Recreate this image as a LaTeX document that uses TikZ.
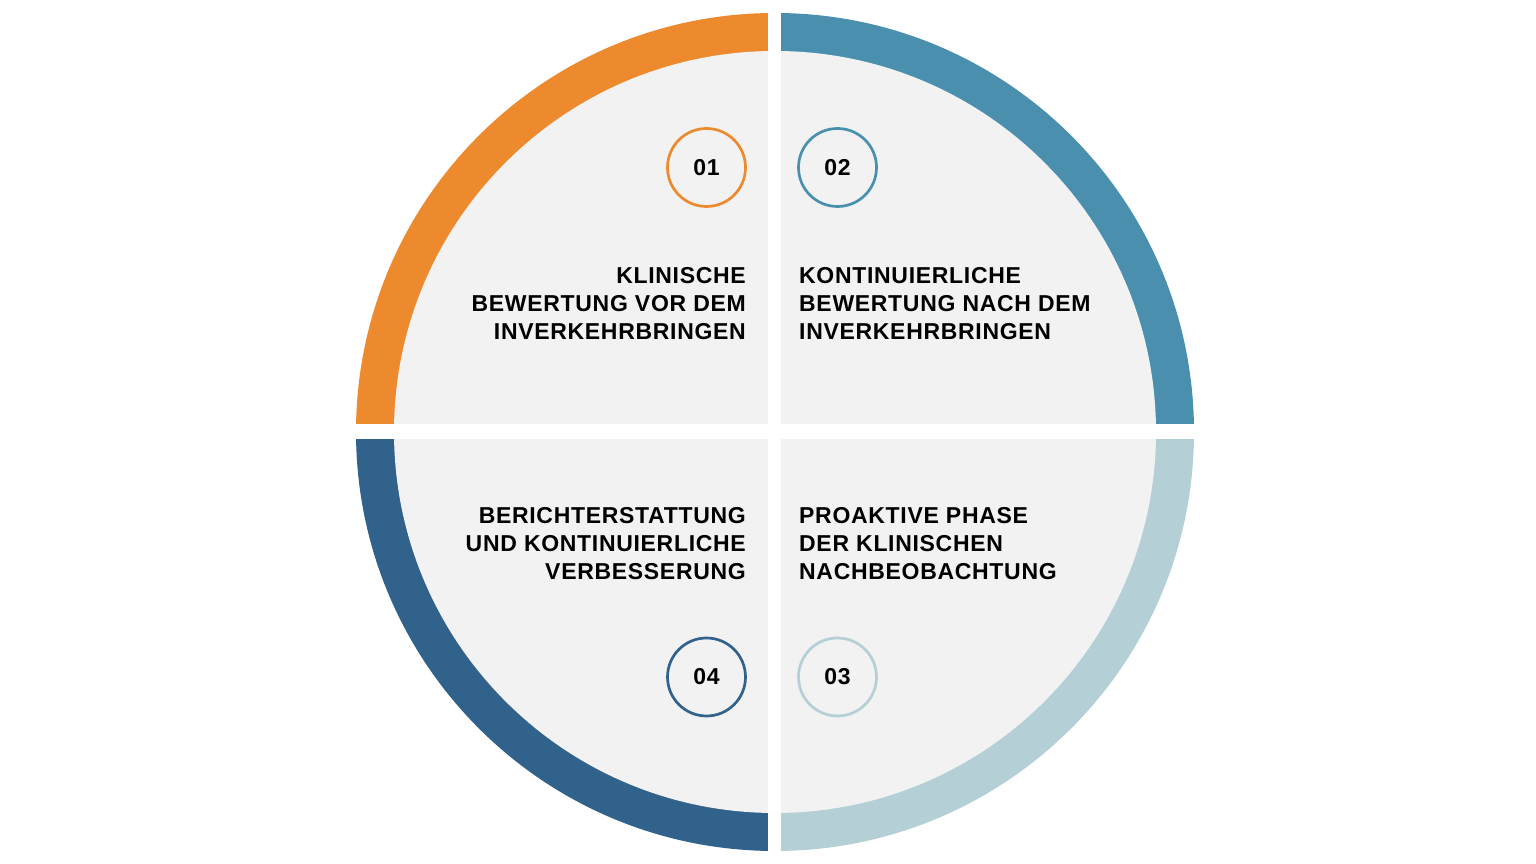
\documentclass[tikz,border=0pt]{standalone}
\usepackage{fontspec}
\usepackage{xcolor}
\newfontfamily\phasefont{Liberation Sans}[LetterSpace=3.0]
\definecolor{phaseOrange}{HTML}{EE8A2E}
\definecolor{phaseTeal}{HTML}{4A90AE}
\definecolor{phaseLight}{HTML}{B4CFD5}
\definecolor{phaseDark}{HTML}{31628C}
\definecolor{panelGrey}{HTML}{F2F2F2}

\begin{document}
\begin{tikzpicture}[x=1pt, y=1pt,
phase/.style={inner sep=0pt, font=\phasefont\bfseries\fontsize{23}{28}\selectfont, text=black},
num/.style={circle, draw=#1, line width=2.7pt, minimum size=78pt, inner sep=0pt,
    font=\phasefont\bfseries\fontsize{23}{26}\selectfont, text=black}]
\useasboundingbox[fill=white] (0,0) rectangle (1536,864);
\coordinate (c) at (775,432);
% outer bands and inner disc
\foreach \a/\col in {90/phaseOrange, 0/phaseTeal, 270/phaseLight, 180/phaseDark}
  \fill[\col] (c) -- ++(\a:419) arc[start angle=\a, end angle=\a+90, radius=419pt] -- cycle;
\fill[panelGrey] (c) circle[radius=381pt];
% white cross between the quadrants
\fill[white] (768,0) rectangle (781,864);
\fill[white] (0,425) rectangle (1536,440);
% numbers
\node[num=phaseOrange] (n1) at (706.5,696.5) {01};
\node[num=phaseTeal] (n2) at (837.5,696.5) {02};
\node[num=phaseLight] (n3) at (837.5,187) {03};
\node[num=phaseDark] (n4) at (706.5,187) {04};
% texts
\node[phase, anchor=north east, align=right] (t1) at (746,597)
  {KLINISCHE\\BEWERTUNG VOR DEM\\INVERKEHRBRINGEN};
\node[phase, anchor=north west, align=left] (t2) at (799,597)
  {KONTINUIERLICHE\\BEWERTUNG NACH DEM\\INVERKEHRBRINGEN};
\node[phase, anchor=north west, align=left] (t3) at (799,357)
  {PROAKTIVE PHASE\\DER KLINISCHEN\\NACHBEOBACHTUNG};
\node[phase, anchor=north east, align=right] (t4) at (746,357)
  {BERICHTERSTATTUNG\\UND KONTINUIERLICHE\\VERBESSERUNG};
\end{tikzpicture}
\end{document}
